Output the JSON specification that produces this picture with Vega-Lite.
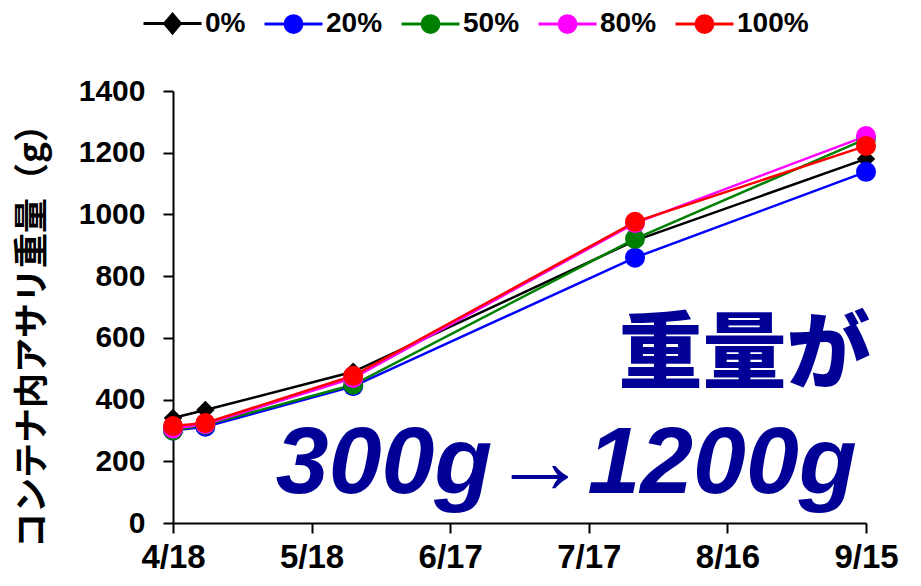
{
  "$schema": "https://vega.github.io/schema/vega-lite/v6.json",
  "width": 693,
  "height": 432,
  "autosize": {"type": "none"},
  "padding": {"left": 173, "top": 91, "right": 55, "bottom": 63},
  "background": "#ffffff",
  "config": {
    "view": {"stroke": null},
    "legend": {
      "orient": "none", "direction": "horizontal",
      "legendX": -31, "legendY": -98,
      "padding": 0,
      "labelFont": "Liberation Sans", "labelFontSize": 28, "labelFontWeight": "bold", "labelColor": "#000000",
      "labelOffset": 2, "columnPadding": 12,
      "symbolSize": 3364, "symbolStrokeWidth": 3, "symbolOpacity": 1
    }
  },
  "datasets": {
    "main": [
      {"s": "0%", "date": "2021/04/18", "v": 340},
      {"s": "0%", "date": "2021/04/25", "v": 366},
      {"s": "0%", "date": "2021/05/27", "v": 490},
      {"s": "0%", "date": "2021/07/27", "v": 915},
      {"s": "0%", "date": "2021/09/15", "v": 1180},
      {"s": "20%", "date": "2021/04/18", "v": 300},
      {"s": "20%", "date": "2021/04/25", "v": 312},
      {"s": "20%", "date": "2021/05/27", "v": 443},
      {"s": "20%", "date": "2021/07/27", "v": 860},
      {"s": "20%", "date": "2021/09/15", "v": 1138},
      {"s": "50%", "date": "2021/04/18", "v": 300},
      {"s": "50%", "date": "2021/04/25", "v": 318},
      {"s": "50%", "date": "2021/05/27", "v": 448},
      {"s": "50%", "date": "2021/07/27", "v": 921},
      {"s": "50%", "date": "2021/09/15", "v": 1245},
      {"s": "80%", "date": "2021/04/18", "v": 306},
      {"s": "80%", "date": "2021/04/25", "v": 320},
      {"s": "80%", "date": "2021/05/27", "v": 470},
      {"s": "80%", "date": "2021/07/27", "v": 972},
      {"s": "80%", "date": "2021/09/15", "v": 1254},
      {"s": "100%", "date": "2021/04/18", "v": 314},
      {"s": "100%", "date": "2021/04/25", "v": 324},
      {"s": "100%", "date": "2021/05/27", "v": 477},
      {"s": "100%", "date": "2021/07/27", "v": 976},
      {"s": "100%", "date": "2021/09/15", "v": 1222}
    ]
  },
  "layer": [
    {
      "data": {"name": "main"},
      "mark": {"type": "line", "strokeWidth": 2.5},
      "encoding": {
        "x": {
          "field": "date", "type": "temporal",
          "scale": {"domain": [{"year": 2021, "month": 4, "date": 18}, {"year": 2021, "month": 9, "date": 15}], "nice": false},
          "axis": {
            "title": null,
            "format": "%-m/%-d",
            "values": [
              {"year": 2021, "month": 4, "date": 18},
              {"year": 2021, "month": 5, "date": 18},
              {"year": 2021, "month": 6, "date": 17},
              {"year": 2021, "month": 7, "date": 17},
              {"year": 2021, "month": 8, "date": 16},
              {"year": 2021, "month": 9, "date": 15}
            ],
            "grid": false,
            "domainColor": "#000000", "domainWidth": 2,
            "tickColor": "#000000", "tickWidth": 2, "tickSize": 10,
            "labelFont": "Liberation Sans", "labelFontSize": 33, "labelFontWeight": "bold", "labelColor": "#000000",
            "labelPadding": 8, "labelFlush": false, "labelOverlap": false
          }
        },
        "y": {
          "field": "v", "type": "quantitative",
          "scale": {"domain": [0, 1400], "nice": false},
          "axis": {
            "title": "コンテナ内アサリ重量（g）",
            "format": "d",
            "values": [0, 200, 400, 600, 800, 1000, 1200, 1400],
            "grid": false,
            "domainColor": "#000000", "domainWidth": 2,
            "tickColor": "#000000", "tickWidth": 2, "tickSize": 10,
            "labelFont": "Liberation Sans", "labelFontSize": 30, "labelFontWeight": "bold", "labelColor": "#000000",
            "labelPadding": 18, "labelFlush": false,
            "titleFont": "Noto Sans CJK JP", "titleFontSize": 35, "titleFontWeight": "bold", "titleColor": "#000000",
            "titleX": -141, "titleY": 236, "titleAngle": -90, "titleAlign": "center", "titleBaseline": "middle"
          }
        },
        "stroke": {
          "field": "s", "type": "nominal",
          "scale": {"domain": ["0%", "20%", "50%", "80%", "100%"], "range": ["#000000", "#0000FF", "#008000", "#FF00FF", "#FF0000"]},
          "legend": {"title": null}
        }
      }
    },
    {
      "data": {"name": "main"},
      "mark": {"type": "point", "filled": true, "opacity": 0},
      "encoding": {
        "x": {"field": "date", "type": "temporal"},
        "y": {"field": "v", "type": "quantitative"},
        "fill": {
          "field": "s", "type": "nominal",
          "scale": {"domain": ["0%", "20%", "50%", "80%", "100%"], "range": ["#000000", "#0000FF", "#008000", "#FF00FF", "#FF0000"]},
          "legend": {"title": null}
        },
        "stroke": {"field": "s", "type": "nominal", "legend": {"title": null}},
        "shape": {
          "field": "s", "type": "nominal",
          "scale": {
            "domain": ["0%", "20%", "50%", "80%", "100%"],
            "range": [
              "M-1,0H1M0,-0.32L0.27,0L0,0.32L-0.27,0Z",
              "M-1,0H1M0.29,0A0.29,0.29,0,1,1,-0.29,0A0.29,0.29,0,1,1,0.29,0Z",
              "M-1,0H1M0.29,0A0.29,0.29,0,1,1,-0.29,0A0.29,0.29,0,1,1,0.29,0Z",
              "M-1,0H1M0.29,0A0.29,0.29,0,1,1,-0.29,0A0.29,0.29,0,1,1,0.29,0Z",
              "M-1,0H1M0.29,0A0.29,0.29,0,1,1,-0.29,0A0.29,0.29,0,1,1,0.29,0Z"
            ]
          },
          "legend": {"title": null}
        }
      }
    },
    {
      "data": {"name": "main"},
      "mark": {"type": "point", "filled": true, "opacity": 1, "strokeWidth": 0},
      "encoding": {
        "x": {"field": "date", "type": "temporal"},
        "y": {"field": "v", "type": "quantitative"},
        "fill": {"field": "s", "type": "nominal", "legend": {"title": null}},
        "shape": {"condition": {"test": "datum.s === '0%'", "value": "diamond"}, "value": "circle"},
        "size": {"condition": {"test": "datum.s === '0%'", "value": 340}, "value": 400}
      }
    },
    {
      "data": {"values": [{"t": "重量が", "date": "2021/09/16", "v": 458}]},
      "mark": {"type": "text", "align": "right", "baseline": "alphabetic", "font": "Noto Sans CJK JP", "fontWeight": 900, "fontSize": 84, "color": "#000096"},
      "encoding": {
        "x": {"field": "date", "type": "temporal"},
        "y": {"field": "v", "type": "quantitative"},
        "text": {"field": "t"}
      }
    },
    {
      "data": {"values": [{"t": "300g→1200g", "date": "2021/09/13", "v": 97}]},
      "mark": {"type": "text", "align": "right", "baseline": "alphabetic", "font": "Liberation Sans", "fontWeight": "bold", "fontStyle": "italic", "fontSize": 95, "color": "#000096"},
      "encoding": {
        "x": {"field": "date", "type": "temporal"},
        "y": {"field": "v", "type": "quantitative"},
        "text": {"field": "t"}
      }
    }
  ]
}
